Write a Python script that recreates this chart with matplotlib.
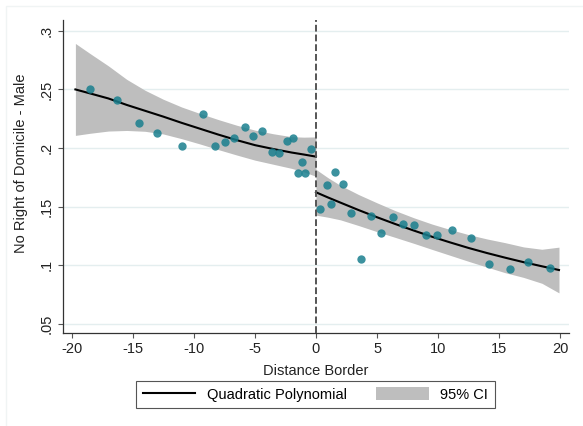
# binned scatter around the border with quadratic fits and 95% CI on each side
import matplotlib
matplotlib.use("Agg")
import matplotlib.pyplot as plt
from matplotlib.lines import Line2D
from matplotlib.patches import Patch, Rectangle

plt.rcParams["font.family"] = ["Liberation Sans", "DejaVu Sans"]

# binned means
left_x = [-18.51, -16.27, -14.52, -13.02, -10.97, -9.22, -8.24, -7.47, -6.74, -5.83,
          -5.13, -4.41, -3.59, -2.99, -2.37, -1.87, -1.46, -1.14, -0.86, -0.40]
left_y = [0.250, 0.241, 0.2214, 0.2126, 0.2015, 0.229, 0.2017, 0.2049, 0.2088, 0.2177,
          0.2103, 0.2143, 0.1966, 0.1958, 0.2058, 0.2088, 0.1787, 0.188, 0.1785, 0.1995]
right_x = [0.37, 0.93, 1.21, 1.57, 2.25, 2.88, 3.65, 4.49, 5.29, 6.30,
           7.14, 8.04, 9.03, 9.93, 11.16, 12.72, 14.17, 15.89, 17.39, 19.13]
right_y = [0.148, 0.1682, 0.1523, 0.1798, 0.1691, 0.1449, 0.1054, 0.1423, 0.1279, 0.141,
           0.135, 0.1341, 0.1256, 0.1259, 0.130, 0.1236, 0.1009, 0.0969, 0.1029, 0.098]

# fitted curve and CI band
fit_left_x = [-19.7, -18.5, -17, -15.5, -14, -12.5, -11, -9.5, -8, -6.5, -5, -3.5, -2, -1, 0]
fit_left = [0.2500, 0.2466, 0.2423, 0.2368, 0.2318, 0.2268, 0.2215, 0.2165, 0.2115,
            0.2068, 0.2025, 0.1992, 0.1962, 0.1945, 0.1927]
ci_left_lo = [0.2108, 0.2126, 0.2145, 0.2150, 0.2143, 0.2120, 0.2080, 0.2035, 0.1987,
              0.1941, 0.1897, 0.1862, 0.1827, 0.1797, 0.1759]
ci_left_hi = [0.2892, 0.2806, 0.2701, 0.2586, 0.2493, 0.2416, 0.2350, 0.2295, 0.2243,
              0.2195, 0.2153, 0.2122, 0.2097, 0.2093, 0.2095]

fit_right_x = [0, 1, 2, 3.5, 5, 6.5, 8, 9.5, 11, 12.5, 14, 15.5, 17, 18.5, 19.9]
fit_right = [0.1623, 0.1578, 0.1535, 0.1471, 0.1410, 0.1352, 0.1297, 0.1244, 0.1195,
             0.1148, 0.1105, 0.1065, 0.1027, 0.0992, 0.0960]
ci_right_lo = [0.1428, 0.1410, 0.1388, 0.1339, 0.1287, 0.1238, 0.1188, 0.1136, 0.1085,
               0.1034, 0.0985, 0.0937, 0.0897, 0.0847, 0.0765]
ci_right_hi = [0.1818, 0.1746, 0.1682, 0.1603, 0.1533, 0.1466, 0.1406, 0.1352, 0.1305,
               0.1262, 0.1225, 0.1193, 0.1157, 0.1137, 0.1155]

x_ticks = [-20, -15, -10, -5, 0, 5, 10, 15, 20]
y_ticks = [0.05, 0.1, 0.15, 0.2, 0.25, 0.3]
y_labels = [".05", ".1", ".15", ".2", ".25", ".3"]

band_col = "#bebebe"
dot_col = "#1a7f8e"

fig = plt.figure(figsize=(5.83, 4.26), dpi=100)
ax = fig.add_axes([62.7 / 583, 1 - 333 / 426, (569 - 62.7) / 583, (333 - 20) / 426])

# faint outer frame like the stata graph region
fig.patches.append(Rectangle((5.5 / 583, -0.1), 1.2, 1.086, transform=fig.transFigure,
                             fill=False, edgecolor="#f0f4f4", lw=1))

ax.fill_between(fit_left_x, ci_left_lo, ci_left_hi, color=band_col, lw=0, zorder=1)
ax.fill_between(fit_right_x, ci_right_lo, ci_right_hi, color=band_col, lw=0, zorder=1)
ax.plot(fit_left_x, fit_left, color="black", lw=1.5, zorder=2)
ax.plot(fit_right_x, fit_right, color="black", lw=1.5, zorder=2)
ax.scatter(left_x + right_x, left_y + right_y, s=36, color=dot_col, alpha=0.85,
           linewidths=0, zorder=3)
ax.axvline(0, color="#555555", lw=1.4, ls=(0, (3.5, 1.5)), zorder=4)

ax.set_xlim(-20.74, 20.72)
ax.set_ylim(0.0423, 0.3092)
ax.set_xticks(x_ticks)
ax.set_xticklabels([str(t) for t in x_ticks])
ax.set_yticks(y_ticks)
ax.set_yticklabels(y_labels, rotation=90, va="center")

ax.set_axisbelow(True)
ax.yaxis.grid(True, color="#e4eeef", lw=1)
for s in ["top", "right"]:
    ax.spines[s].set_visible(False)
for s in ["left", "bottom"]:
    ax.spines[s].set_color("#333333")
    ax.spines[s].set_linewidth(0.9)
ax.tick_params(length=3.6, width=0.8, color="#555555", labelsize=10.5,
               labelcolor="#222222", pad=3)

ax.set_xlabel("Distance Border", fontsize=10.5, color="#222222")
ax.xaxis.set_label_coords(0.5, -0.099)
ax.set_ylabel("No Right of Domicile - Male", fontsize=10.5, color="#222222")
ax.yaxis.set_label_coords(-0.0685, 0.543)

handles = [Line2D([], [], color="black", lw=1.5), Patch(facecolor=band_col, edgecolor="none")]
leg = fig.legend(handles, ["Quadratic Polynomial", "95% CI"], loc="center",
                 bbox_to_anchor=(315.5 / 583, 1 - 394.5 / 426), ncol=2, fontsize=10.5,
                 frameon=True, fancybox=False, edgecolor="#555555", framealpha=1,
                 handlelength=3.6, handleheight=1.0, handletextpad=0.8,
                 columnspacing=2.0, borderpad=0.45)
leg.get_frame().set_linewidth(0.8)

fig.savefig("out.png", dpi=100)
